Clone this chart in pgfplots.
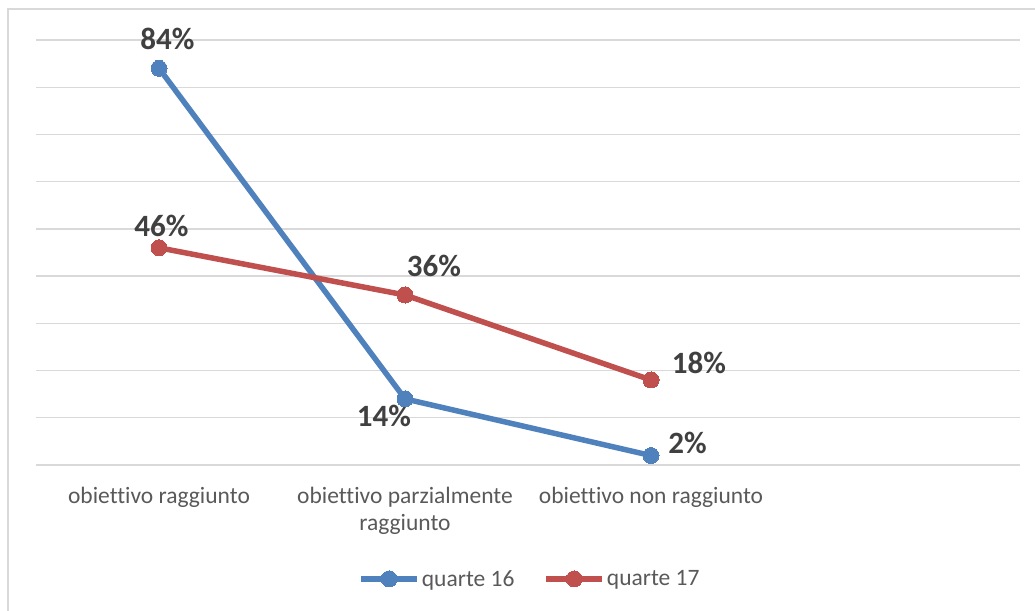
\documentclass[border=0pt]{standalone}
\usepackage{fontspec}
\setmainfont{Carlito}[Ligatures=NoCommon]
\usepackage{pgfplots}
\pgfplotsset{compat=1.18}
\definecolor{blueS}{HTML}{4F81BD}
\definecolor{redS}{HTML}{C0504D}
\definecolor{gridc}{HTML}{D9D9D9}
\definecolor{txt}{HTML}{595959}
\definecolor{lbl}{HTML}{404040}
\begin{document}
\begin{tikzpicture}
\path[use as bounding box] (0,0) rectangle (1035pt,610pt);
\draw[gridc, line width=1.5pt] (8pt,-2pt) -- (8pt,601pt) -- (1040pt,601pt);
\begin{axis}[
  at={(36pt,145pt)}, anchor=south west,
  scale only axis, width=984pt, height=425pt,
  xmin=-0.5, xmax=3.5, ymin=0, ymax=90,
  xtick={0,1,2},
  xticklabels={obiettivo raggiunto, {obiettivo parzialmente\\raggiunto}, obiettivo non raggiunto},
  ytick={0,10,...,90}, yticklabels={},
  ymajorgrids, grid style={gridc, line width=1.3pt},
  axis line style={draw=none},
  major tick length=0pt,
  xticklabel style={align=center, anchor=north, inner sep=0pt, yshift=-22pt, text=txt, font=\fontsize{23.5}{27}\selectfont},
  clip=false,
  legend columns=2,
  legend style={at={(0.502,-0.268)}, anchor=center, draw=none, fill=none,
    font=\fontsize{23.5}{27}\selectfont, text=txt,
    /tikz/every even column/.append style={column sep=27pt},
    nodes={inner sep=2pt}},
  legend image code/.code={\draw[mark repeat=2,mark phase=2] plot coordinates {(0pt,0pt) (28pt,0pt) (56pt,0pt)};},
]
\addplot[blueS, line width=5.5pt, mark=*, mark size=8pt, mark options={solid, line width=0pt}] coordinates {(0,84) (1,14) (2,2)};
\addlegendentry{quarte 16}
\addplot[redS, line width=5.5pt, mark=*, mark size=8pt, mark options={solid, line width=0pt}] coordinates {(0,46) (1,36) (2,18)};
\addlegendentry{quarte 17}
\tikzset{dl/.style={anchor=base, text=lbl, font=\bfseries\fontsize{31}{36}\selectfont, inner sep=0pt}}
\node[dl, xshift=8.5pt, yshift=19pt] at (axis cs:0,84) {84\%};
\node[dl, xshift=2.5pt, yshift=11pt] at (axis cs:0,46) {46\%};
\node[dl, xshift=29pt, yshift=18pt] at (axis cs:1,36) {36\%};
\node[dl, xshift=48pt, yshift=6pt] at (axis cs:2,18) {18\%};
\node[dl, xshift=-21pt, yshift=-28pt] at (axis cs:1,14) {14\%};
\node[dl, xshift=36.5pt, yshift=2.5pt] at (axis cs:2,2) {2\%};
\end{axis}
\end{tikzpicture}
\end{document}
